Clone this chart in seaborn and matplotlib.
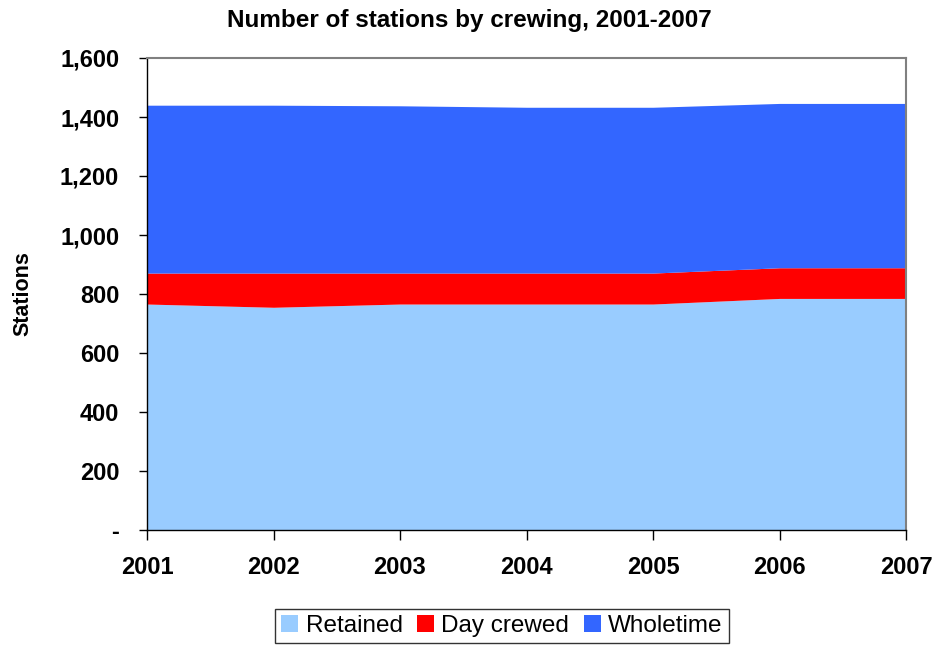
import matplotlib
matplotlib.use("Agg")
import matplotlib.pyplot as plt
import seaborn as sns
import pandas as pd
from matplotlib.ticker import FuncFormatter, MultipleLocator
from matplotlib.patches import Patch

years = [2001, 2002, 2003, 2004, 2005, 2006, 2007]
retained = [766, 755, 766, 766, 766, 785, 785]
day_crewed = [105, 116, 105, 105, 105, 104, 104]
wholetime = [569, 569, 567, 562, 562, 557, 557]

series_names = ["Retained", "Day crewed", "Wholetime"]
colors = ["#99CCFF", "#FF0000", "#3366FF"]

df = pd.DataFrame({"Year": years, "Retained": retained,
                   "Day crewed": day_crewed, "Wholetime": wholetime})

sns.set_theme(style="white")
plt.rcParams["font.family"] = ["Liberation Sans", "DejaVu Sans"]
plt.rcParams["text.color"] = "black"
plt.rcParams["axes.labelcolor"] = "black"
plt.rcParams["xtick.color"] = "black"
plt.rcParams["ytick.color"] = "black"

fig = plt.figure(figsize=(9.35, 6.45), dpi=100)
ax = fig.add_axes([147 / 935, 1 - 530 / 645, (906 - 147) / 935, (530 - 58) / 645])

ax.stackplot(df["Year"], [df[n] for n in series_names], colors=colors,
             labels=series_names, linewidth=0)

ax.set_xlim(2001, 2007)
ax.set_ylim(0, 1600)
ax.set_xticks(years)
ax.yaxis.set_major_locator(MultipleLocator(200))
ax.yaxis.set_major_formatter(FuncFormatter(lambda v, p: "-" if v == 0 else f"{int(v):,}"))

for side in ["left", "bottom"]:
    ax.spines[side].set_color("black")
    ax.spines[side].set_linewidth(1.0)
for side in ["top", "right"]:
    ax.spines[side].set_color("#808080")
    ax.spines[side].set_linewidth(1.5)

ax.tick_params(axis="y", which="major", direction="out", length=6, width=1,
               color="black", labelcolor="black", labelsize=17, pad=14)
ax.tick_params(axis="x", which="major", direction="out", length=7, width=1,
               color="black", labelcolor="black", labelsize=17, pad=12)
ax.tick_params(left=True, bottom=True)
for lbl in ax.get_xticklabels() + ax.get_yticklabels():
    lbl.set_fontweight("bold")

ax.set_ylabel("Stations", fontsize=15.5, fontweight="bold", color="black")
ax.yaxis.set_label_coords(-0.15, 0.5)

fig.text(469 / 935, 1 - 20 / 645, "Number of stations by crewing, 2001-2007",
         ha="center", va="center", fontsize=17.5, fontweight="bold", color="black")

handles = [Patch(facecolor=c, edgecolor="none") for c in colors]
leg = fig.legend(handles, series_names, loc="center",
                 bbox_to_anchor=(502 / 935, 1 - 626 / 645), ncol=3,
                 fontsize=17.5, frameon=True, fancybox=False, shadow=False,
                 handlelength=0.7, handleheight=0.7, handletextpad=0.3,
                 columnspacing=0.6, borderpad=0.25)
leg.get_frame().set_edgecolor("black")
leg.get_frame().set_linewidth(1.0)
for t in leg.get_texts():
    t.set_color("black")

fig.savefig("out.png", dpi=100)
